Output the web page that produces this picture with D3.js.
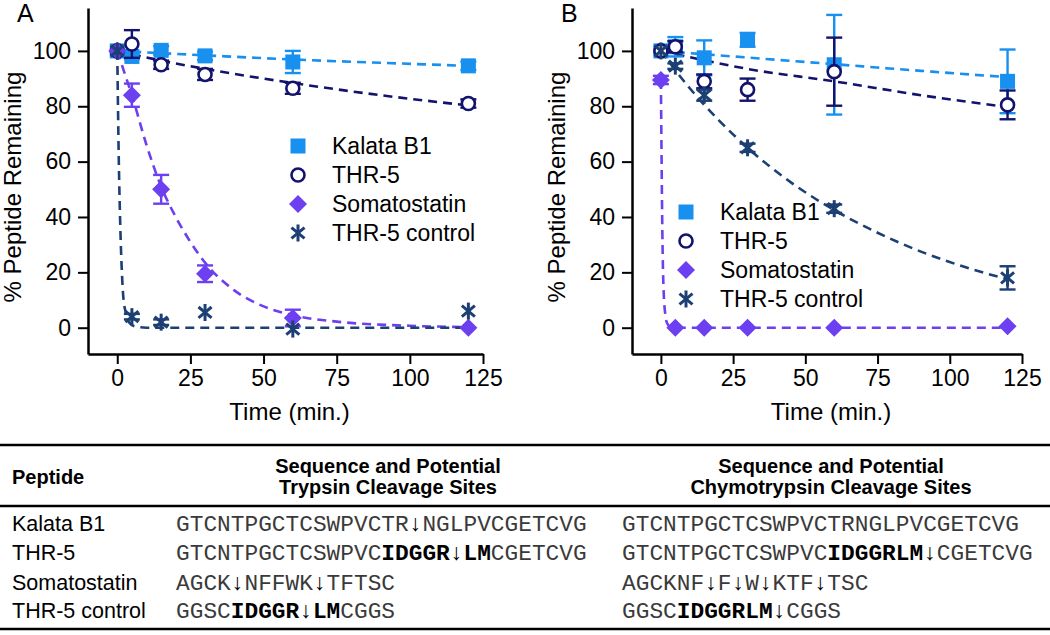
<!DOCTYPE html>
<html>
<head>
<meta charset="utf-8">
<script src="https://cdn.jsdelivr.net/npm/d3@7/dist/d3.min.js"></script>
<style>
  body { margin: 0; background: #fff; }
  svg { display: block; font-family: "Liberation Sans", Arial, sans-serif; }
</style>
</head>
<body>
<div id="chart"></div>
<script>
// sampling times (min.)
const times = [0, 5, 15, 30, 60, 120];

// panel A - trypsin
const kalataA = [100, 98, 100.2, 98.2, 96, 94.6];
const kalataAErr = [0, 1, 1.5, 1.5, 4, 1.5];
const thr5A = [100, 102.5, 95, 91.5, 86.5, 81];
const thr5AErr = [0, 5, 1.5, 2, 2, 1.5];
const somatoA = [100, 84, 50, 19.5, 3.5, 0];
const somatoAErr = [0, 4.2, 5.2, 3, 3, 0];
const controlA = [100, 4, 2, 5.5, -0.5, 6];
const controlAErr = [0, 1, 1, 0, 0, 0];

// panel B - chymotrypsin
const kalataB = [100, 101.5, 97.5, 104, 95, 89];
const kalataBErr = [0, 3.5, 6.3, 2.5, 18, 11.5];
const thr5B = [100, 101.5, 89, 86, 92.5, 80.5];
const thr5BErr = [0, 2, 2.5, 4, 12.3, 5.2];
const somatoB = [89.5, 0, 0, 0, 0, 0.5];
const somatoBErr = [1.5, 0, 0, 0, 0, 0];
const controlB = [100, 94.5, 84, 65, 43, 18];
const controlBErr = [0, 1, 2, 1.5, 1.5, 4.2];

// fitted decay curves
const fitKalataAT = [0, 30, 60, 90, 120];
const fitKalataAV = [100, 98.4, 96.9, 95.7, 94.6];
const fitThr5AT = [0, 15, 30, 60, 90, 120];
const fitThr5AV = [100, 96.5, 93.5, 88.4, 84, 80.3];
const fitSomatoAT = [0, 2.5, 5, 10, 15, 20, 25, 30, 40, 50, 60, 75, 100, 120];
const fitSomatoAV = [100, 92, 84, 66, 51, 40, 31, 23.5, 13.5, 7.7, 4.5, 2.2, 0.7, 0.2];
const fitControlAT = [0, 0.5, 1, 1.5, 2, 3, 4, 6, 10, 120];
const fitControlAV = [100, 62, 38, 22, 12, 5, 2, 0.5, 0, 0];

const fitKalataBT = [0, 30, 60, 90, 120];
const fitKalataBV = [100, 97.6, 95.2, 92.8, 90.5];
const fitThr5BT = [0, 15, 30, 60, 90, 120];
const fitThr5BV = [100, 96.6, 93.5, 89, 84, 79.7];
const fitSomatoBT = [0, 0.25, 0.5, 0.75, 1, 1.5, 2, 3, 5, 120];
const fitSomatoBV = [89.5, 60, 35, 20, 12, 5, 2, 0.5, 0, 0];
const fitControlBT = [0, 5, 10, 15, 20, 30, 45, 60, 75, 90, 105, 120];
const fitControlBV = [100, 93, 86.5, 80.5, 75, 65, 52.5, 42.5, 34.3, 27.5, 22, 17.5];

// legend / series
const seriesNames = ["Kalata B1", "THR-5", "Somatostatin", "THR-5 control"];
const seriesColors = ["#1890f0", "#13136e", "#6c3ff0", "#1c3f74"];
const seriesMarkers = ["square", "circle", "diamond", "star"];

// ticks
const xTicks = [0, 25, 50, 75, 100, 125];
const xMinor = [12.5, 37.5, 62.5, 87.5, 112.5];
const yTicks = [0, 20, 40, 60, 80, 100];
const yMinor = [10, 30, 50, 70, 90, 110];

// table
const tableHeads = ["Peptide", "Sequence and Potential|Trypsin Cleavage Sites", "Sequence and Potential|Chymotrypsin Cleavage Sites"];
const peptides = ["Kalata B1", "THR-5", "Somatostatin", "THR-5 control"];
const trypsinSeqs = [
  "GTCNTPGCTCSWPVCTR↓NGLPVCGETCVG",
  "GTCNTPGCTCSWPVC[IDGGR↓LM]CGETCVG",
  "AGCK↓NFFWK↓TFTSC",
  "GGSC[IDGGR↓LM]CGGS"
];
const chymoSeqs = [
  "GTCNTPGCTCSWPVCTRNGLPVCGETCVG",
  "GTCNTPGCTCSWPVC[IDGGRLM↓]CGETCVG",
  "AGCKNF↓F↓W↓KTF↓TSC",
  "GGSC[IDGGRLM↓]CGGS"
];

const W = 1050, H = 635;
const svg = d3.select("#chart").append("svg").attr("width", W).attr("height", H);

function drawMarker(sel, type, cx, cy, color) {
  if (type === "square") {
    sel.append("rect").attr("x", cx - 7.5).attr("y", cy - 7.5)
      .attr("width", 15).attr("height", 15).attr("fill", color);
  } else if (type === "circle") {
    sel.append("circle").attr("cx", cx).attr("cy", cy).attr("r", 6.5)
      .attr("fill", "#fff").attr("stroke", color).attr("stroke-width", 2.6);
  } else if (type === "diamond") {
    sel.append("path")
      .attr("d", `M${cx},${cy - 9}L${cx + 9},${cy}L${cx},${cy + 9}L${cx - 9},${cy}Z`)
      .attr("fill", color);
  } else {
    const r = 8.5;
    [90, 40, -40].forEach(a => {
      const dx = r * Math.cos(a * Math.PI / 180), dy = r * Math.sin(a * Math.PI / 180);
      sel.append("line").attr("x1", cx - dx).attr("y1", cy - dy)
        .attr("x2", cx + dx).attr("y2", cy + dy)
        .attr("stroke", color).attr("stroke-width", 3);
    });
  }
}

function drawPanel(p) {
  const x = d3.scaleLinear().domain([-10, 125]).range([p.left, p.right]);
  const y = d3.scaleLinear().domain([-9.5, 115.5]).range([354, 8]);
  const g = svg.append("g");

  // axes
  const xa = g.append("g").attr("transform", `translate(0,${y(-9.5)})`);
  xa.call(d3.axisBottom(x).tickValues(xMinor).tickSize(5).tickFormat("").tickSizeOuter(0));
  xa.call(d3.axisBottom(x).tickValues(xTicks).tickSize(10).tickPadding(6).tickSizeOuter(0));
  const ya = g.append("g").attr("transform", `translate(${x(-10)},0)`);
  ya.call(d3.axisLeft(y).tickValues(yMinor).tickSize(5).tickFormat("").tickSizeOuter(0));
  ya.call(d3.axisLeft(y).tickValues(yTicks).tickSize(10).tickPadding(7).tickSizeOuter(0));
  g.selectAll(".domain").attr("stroke", "#000").attr("stroke-width", 2.5);
  g.selectAll(".tick line").attr("stroke", "#000").attr("stroke-width", 2);
  g.selectAll(".tick text").attr("font-size", 23).attr("fill", "#000")
    .attr("font-family", "'Liberation Sans', Arial, sans-serif");

  // titles
  g.append("text").attr("x", (x(-10) + x(125)) / 2 + 4).attr("y", 420)
    .attr("text-anchor", "middle").attr("font-size", 24).text("Time (min.)");
  g.append("text").attr("transform", `translate(${p.left - 67},187) rotate(-90)`)
    .attr("text-anchor", "middle").attr("font-size", 24).text("% Peptide Remaining");
  g.append("text").attr("x", p.left - 71).attr("y", 22).attr("font-size", 25).text(p.letter);

  // fit curves
  const line = d3.line().x(d => x(d[0])).y(d => y(d[1])).curve(d3.curveMonotoneX);
  p.fits.forEach((f, i) => {
    g.append("path").datum(d3.zip(f[0], f[1])).attr("d", line)
      .attr("fill", "none").attr("stroke", seriesColors[i])
      .attr("stroke-width", 2.6).attr("stroke-dasharray", "9,6");
  });

  // error bars and markers
  p.data.forEach((s, i) => {
    const c = seriesColors[i];
    const eg = g.append("g");
    times.forEach((t, k) => {
      const e = s[1][k];
      if (e <= 0) return;
      const cx = x(t), y1 = y(s[0][k] - e), y2 = y(s[0][k] + e);
      eg.append("line").attr("x1", cx).attr("x2", cx).attr("y1", y1).attr("y2", y2)
        .attr("stroke", c).attr("stroke-width", 2.4);
      [y1, y2].forEach(yy => eg.append("line").attr("x1", cx - 8).attr("x2", cx + 8)
        .attr("y1", yy).attr("y2", yy).attr("stroke", c).attr("stroke-width", 2.4));
    });
    times.forEach((t, k) => drawMarker(eg, seriesMarkers[i], x(t), y(s[0][k]), c));
  });

  // legend
  const lg = g.append("g");
  seriesNames.forEach((n, i) => {
    const ly = p.legY + i * 29;
    drawMarker(lg, seriesMarkers[i], p.legX, ly, seriesColors[i]);
    lg.append("text").attr("x", p.legX + 34).attr("y", ly).attr("dy", "0.36em")
      .attr("font-size", 23).text(n);
  });
}

drawPanel({
  left: 88, right: 483, letter: "A", legX: 298, legY: 146,
  fits: [[fitKalataAT, fitKalataAV], [fitThr5AT, fitThr5AV], [fitSomatoAT, fitSomatoAV], [fitControlAT, fitControlAV]],
  data: [[kalataA, kalataAErr], [thr5A, thr5AErr], [somatoA, somatoAErr], [controlA, controlAErr]]
});
drawPanel({
  left: 632, right: 1022, letter: "B", legX: 686, legY: 212,
  fits: [[fitKalataBT, fitKalataBV], [fitThr5BT, fitThr5BV], [fitSomatoBT, fitSomatoBV], [fitControlBT, fitControlBV]],
  data: [[kalataB, kalataBErr], [thr5B, thr5BErr], [somatoB, somatoBErr], [controlB, controlBErr]]
});

// table
const tg = svg.append("g");
[445, 506, 629].forEach(yy => tg.append("line").attr("x1", 0).attr("x2", W)
  .attr("y1", yy).attr("y2", yy).attr("stroke", "#000").attr("stroke-width", 2.5));

tg.append("text").attr("x", 12).attr("y", 477).attr("dy", "0.35em")
  .attr("font-size", 20).attr("font-weight", "bold").text(tableHeads[0]);
[[388, tableHeads[1]], [831, tableHeads[2]]].forEach(([cx, h]) => {
  h.split("|").forEach((ln, j) => {
    tg.append("text").attr("x", cx).attr("y", 466 + j * 21).attr("dy", "0.35em")
      .attr("text-anchor", "middle").attr("font-size", 20).attr("font-weight", "bold").text(ln);
  });
});

const rowY = [523, 552, 582, 610];
function seqText(str, x0, yy) {
  const t = tg.append("text").attr("x", x0).attr("y", yy).attr("dy", "0.35em")
    .attr("font-family", "'Liberation Mono', 'Courier New', monospace").attr("font-size", 22.8);
  let bold = false;
  for (const ch of str) {
    if (ch === "[") { bold = true; continue; }
    if (ch === "]") { bold = false; continue; }
    const arrow = ch === "↓";
    t.append("tspan").text(ch)
      .attr("font-weight", bold || arrow ? "bold" : "normal")
      .attr("fill", bold || arrow ? "#000" : "#3a3a3a");
  }
}
peptides.forEach((pname, i) => {
  tg.append("text").attr("x", 12).attr("y", rowY[i]).attr("dy", "0.35em")
    .attr("font-size", 21.5).text(pname);
  seqText(trypsinSeqs[i], 176, rowY[i]);
  seqText(chymoSeqs[i], 622, rowY[i]);
});
</script>
</body>
</html>
